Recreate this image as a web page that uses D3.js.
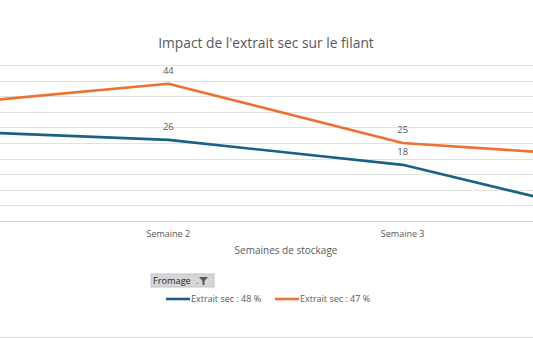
<!DOCTYPE html>
<html>
<head>
<meta charset="utf-8">
<script src="https://cdn.jsdelivr.net/npm/d3@7"></script>
<style>
  html,body{margin:0;padding:0;background:#fff;}
  svg{display:block;font-family:"Open Sans","Liberation Sans",Arial,sans-serif;}
</style>
</head>
<body>
<svg id="chart" width="533" height="338"></svg>
<script>
// data (Semaine 1 and 4 sit outside the visible crop)
const weeks = ['Semaine 1','Semaine 2','Semaine 3','Semaine 4'];
const es48 = [29, 26, 18, 0];
const es47 = [37, 44, 25, 20];
const seriesNames = ['Extrait sec : 48 %','Extrait sec : 47 %'];
const seriesColors = ['#1a6188','#ea7333'];
const yTicks = [0,5,10,15,20,25,30,35,40,45,50];

const svg = d3.select('#chart');
const W = 533, H = 338;

// plot area is wider than the visible frame (chart is cropped left/right)
const x = d3.scalePoint().domain(weeks).range([-66, 637]);
const y = d3.scaleLinear().domain([0,50]).range([221, 65]);
const visible = xv => xv > 20 && xv < W - 20;

// gridlines
svg.append('g').selectAll('line').data(yTicks).join('line')
  .attr('x1',0).attr('x2',W)
  .attr('y1',d=>Math.round(y(d))+0.5).attr('y2',d=>Math.round(y(d))+0.5)
  .attr('stroke',d=> d===0 ? '#d0d0d0' : '#e2e2e2').attr('stroke-width',1);

// title
svg.append('text').attr('x',266).attr('y',48).attr('text-anchor','middle')
  .attr('font-size',13.8).attr('fill','#595959')
  .text("Impact de l'extrait sec sur le filant");

// category labels (only those inside the cropped frame)
svg.append('g').selectAll('text').data(weeks.filter(d=>visible(x(d)))).join('text')
  .attr('x',d=>x(d)).attr('y',237).attr('text-anchor','middle')
  .attr('font-size',9).attr('fill','#595959').text(d=>d);

// axis title
svg.append('text').attr('x',286).attr('y',254).attr('text-anchor','middle')
  .attr('font-size',10).attr('fill','#595959').text('Semaines de stockage');

const line = d3.line().x((d,i)=>x(weeks[i])).y(d=>y(d));
const series = [es48, es47];

series.forEach((vals,k)=>{
  svg.append('path').datum(vals).attr('d',line)
    .attr('fill','none').attr('stroke',seriesColors[k])
    .attr('stroke-width',2.6).attr('stroke-linejoin','round');
  const pts = vals.map((v,i)=>({v, w:weeks[i]})).filter(p=>visible(x(p.w)));
  svg.append('g').selectAll('text').data(pts).join('text')
    .attr('x',p=>x(p.w)).attr('y',p=>y(p.v)-10)
    .attr('text-anchor','middle').attr('font-size',9.5).attr('fill','#595959')
    .text(p=>p.v);
});

// filter button
const fb = svg.append('g').attr('transform','translate(151,274)');
fb.append('rect').attr('width',63).attr('height',13).attr('fill','#d6d6d6').attr('stroke','#c4c4c4');
fb.append('text').attr('x',2).attr('y',10).attr('font-size',9.2).attr('font-weight',500).attr('fill','#262626').text('Fromage');
fb.append('text').attr('x',45).attr('y',10).attr('font-size',9).attr('fill','#404040').text('.');
fb.append('path').attr('d','M48,3 L57,3 L53.5,7 L53.5,11 L51.5,11 L51.5,7 Z').attr('fill','#595959');

// legend
const leg = svg.append('g').selectAll('g').data(seriesNames).join('g')
  .attr('transform',(d,i)=>`translate(${i===0?166:275},299)`);
leg.append('line').attr('x1',0).attr('x2',24).attr('y1',0).attr('y2',0)
  .attr('stroke',(d,i)=>seriesColors[i]).attr('stroke-width',2.6);
leg.append('text').attr('x',25).attr('y',3.3).attr('font-size',9).attr('fill','#595959').text(d=>d);

// bottom border of chart area
svg.append('line').attr('x1',0).attr('x2',W).attr('y1',337.5).attr('y2',337.5).attr('stroke','#d9d9d9');
</script>
</body>
</html>
